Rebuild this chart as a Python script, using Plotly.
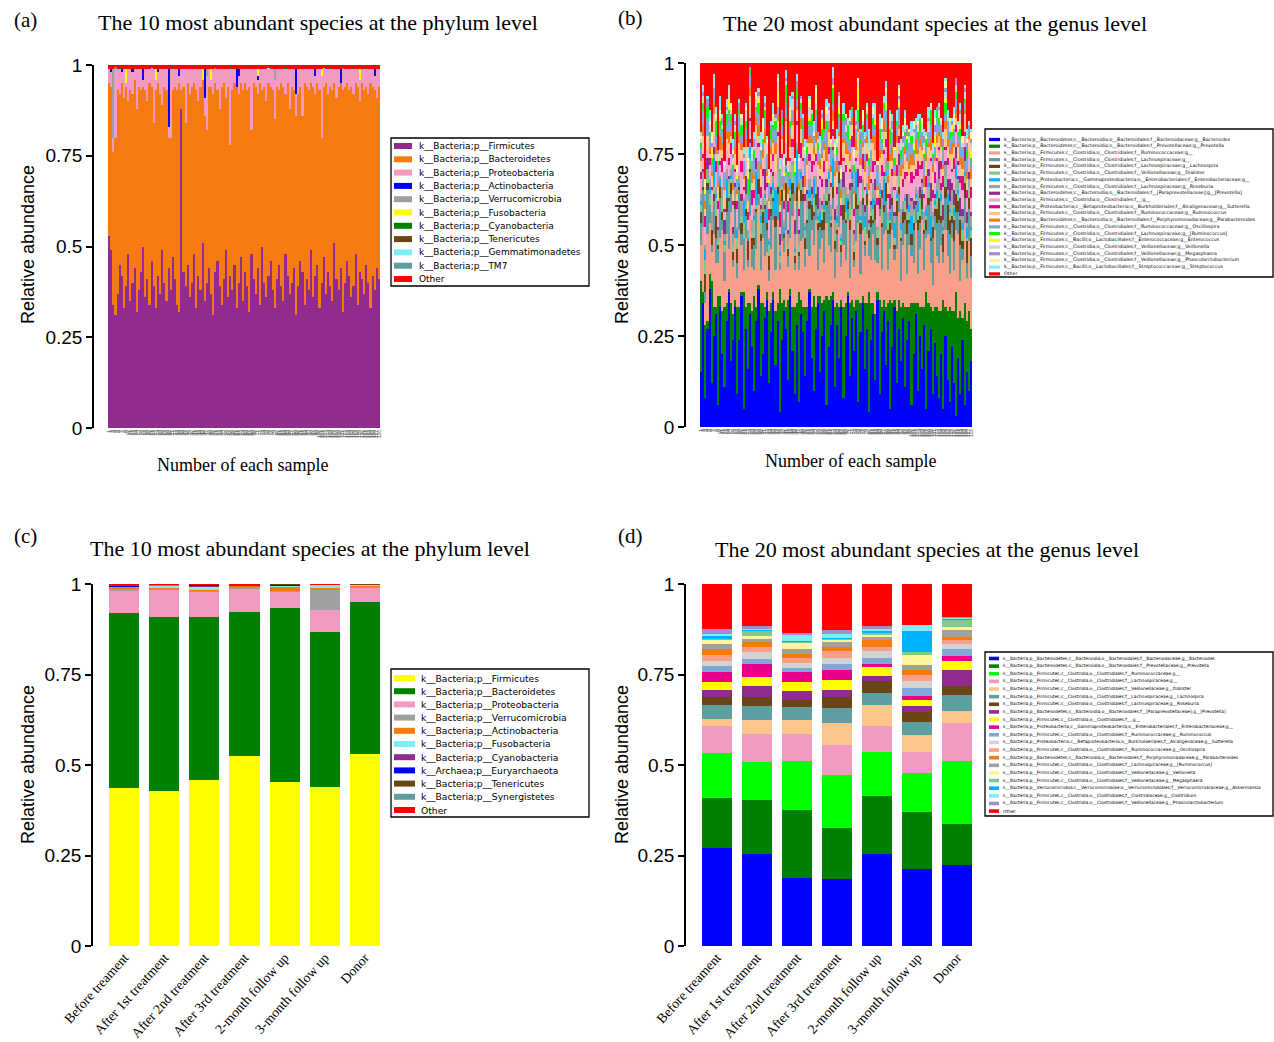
import plotly.graph_objects as go

W, H = 1274, 1042

# ---------------- Panel (a): phylum level, per sample (%) ----------------
SAMPLES = [str(i) for i in range(1, 129)]

A_FIRMICUTES = [
    53, 49, 34, 31, 37, 45, 42, 33, 39, 48, 35, 40, 44, 32, 38, 43,
    50, 36, 41, 34, 46, 39, 33, 42, 37, 49, 40, 35, 44, 38, 47, 41,
    34, 32, 88, 43, 39, 45, 36, 40, 48, 33, 42, 38, 51, 35, 40, 44,
    37, 31, 43, 46, 39, 34, 41, 49, 36, 42, 38, 45, 33, 40, 47, 35,
    43, 39, 32, 48, 41, 37, 44, 34, 50, 40, 36, 42, 46, 38, 33, 41,
    45, 39, 35, 48, 42, 37, 40, 44, 31, 39, 46, 43, 34, 41, 38, 49,
    36, 42, 45, 33, 40, 47, 37, 43, 39, 35, 51, 41, 38, 44, 32, 40,
    46, 42, 36, 39, 48, 34, 43, 41, 37, 45, 40, 33, 42, 38, 44, 41]
A_BACTEROIDETES = [
    42, 45, 42, 49, 56, 47, 53, 58, 55, 42, 58, 52, 52, 56, 56, 50,
    44, 57, 49, 61, 48, 45, 60, 53, 55, 40, 54, 58, 36, 42, 46, 53,
    59, 63, 5, 51, 45, 50, 56, 54, 47, 60, 48, 56, 45, 51, 42, 50,
    57, 61, 52, 47, 49, 60, 54, 42, 58, 36, 55, 50, 61, 52, 48, 58,
    52, 54, 62, 34, 54, 57, 48, 61, 43, 54, 54, 53, 48, 55, 52, 53,
    48, 56, 59, 44, 53, 51, 54, 49, 55, 53, 48, 43, 61, 53, 55, 46,
    58, 50, 50, 60, 40, 47, 58, 49, 55, 58, 44, 50, 56, 51, 61, 54,
    49, 51, 58, 53, 47, 60, 47, 54, 56, 49, 52, 62, 52, 55, 47, 53]
A_PROTEOBACTERIA = [
    4, 4, 4, 19, 6, 7, 3, 8, 1, 9, 6, 6, 3, 11, 5, 6,
    2, 6, 9, 4, 5, 15, 3, 3, 7, 10, 5, 6, 3, 19, 6, 5,
    6, 2, 6, 5, 15, 4, 7, 5, 4, 6, 9, 5, 0, 5, 15, 5,
    2, 7, 4, 6, 11, 5, 4, 8, 5, 21, 6, 4, 0, 5, 4, 6,
    4, 6, 5, 17, 4, 5, 4, 4, 6, 5, 9, 4, 5, 6, 11, 5,
    6, 4, 5, 7, 4, 11, 5, 6, 6, 7, 5, 13, 4, 5, 6, 4,
    5, 5, 4, 6, 17, 5, 4, 7, 5, 6, 4, 8, 5, 0, 6, 5,
    4, 6, 5, 7, 4, 5, 6, 4, 6, 5, 7, 4, 5, 4, 8, 5]
A_ACTINOBACTERIA = [
    0, 1, 0, 0, 0, 0, 1, 0, 0, 0, 0, 1, 0, 0, 0, 0,
    3, 0, 0, 0, 0, 0, 0, 1, 0, 0, 0, 0, 16, 0, 0, 0,
    0, 2, 0, 0, 0, 0, 0, 0, 0, 0, 0, 0, 0, 8, 0, 0,
    0, 0, 0, 0, 0, 0, 0, 0, 0, 0, 0, 0, 5, 2, 0, 0,
    0, 0, 0, 0, 0, 0, 1, 0, 0, 0, 0, 0, 0, 0, 0, 0,
    0, 0, 0, 0, 0, 0, 0, 0, 7, 0, 0, 0, 0, 0, 0, 0,
    0, 2, 0, 0, 0, 0, 0, 0, 0, 0, 0, 0, 0, 4, 0, 0,
    0, 0, 0, 0, 0, 0, 0, 0, 0, 0, 0, 0, 0, 2, 0, 0]
A_VERRUCOMICROBIA = [
    0, 0, 19, 0, 0, 0, 0, 0, 0, 0, 0, 0, 0, 0, 0, 0,
    0, 0, 0, 0, 0, 0, 0, 0, 0, 0, 0, 0, 0, 0, 0, 0,
    0, 0, 0, 0, 0, 0, 0, 0, 0, 0, 0, 0, 0, 0, 2, 0,
    0, 0, 0, 0, 0, 0, 0, 0, 0, 0, 0, 0, 0, 0, 0, 0,
    0, 0, 0, 0, 0, 0, 0, 0, 0, 0, 0, 0, 0, 0, 3, 0,
    0, 0, 0, 0, 0, 0, 0, 0, 0, 0, 0, 0, 0, 0, 0, 0,
    0, 0, 0, 0, 0, 0, 0, 0, 0, 0, 0, 0, 0, 0, 0, 0,
    0, 0, 0, 0, 0, 0, 0, 0, 0, 0, 0, 0, 0, 0, 0, 0]
A_FUSOBACTERIA = [
    0, 0, 0, 0, 0, 0, 0, 0, 4, 0, 0, 0, 0, 0, 0, 0,
    0, 0, 0, 0, 0, 0, 3, 0, 0, 0, 0, 0, 0, 0, 0, 0,
    0, 0, 0, 0, 0, 0, 0, 0, 0, 0, 0, 0, 3, 0, 0, 0,
    3, 0, 0, 0, 0, 0, 0, 0, 0, 0, 0, 0, 0, 0, 0, 0,
    0, 0, 0, 0, 0, 0, 2, 0, 0, 0, 0, 0, 0, 0, 0, 0,
    0, 0, 0, 0, 0, 0, 0, 0, 0, 0, 0, 0, 0, 0, 0, 0,
    0, 0, 0, 0, 2, 0, 0, 0, 0, 0, 0, 0, 0, 0, 0, 0,
    0, 0, 0, 0, 0, 0, 3, 0, 0, 0, 0, 0, 0, 0, 0, 0]
A_CYANOBACTERIA = [
    0, 0, 0, 0, 0, 0.5, 0, 0, 0, 0, 0, 0, 0, 0, 0, 0,
    0, 0, 0, 0, 0, 0, 0, 0, 0, 0, 0, 0, 0, 0, 0.4, 0,
    0, 0, 0, 0, 0, 0, 0, 0, 0, 0, 0, 0, 0, 0, 0, 0,
    0, 0, 0, 0, 0, 0, 0, 0, 0, 0.5, 0, 0, 0, 0, 0, 0,
    0, 0, 0, 0, 0, 0, 0, 0, 0, 0, 0, 0, 0, 0, 0, 0,
    0, 0, 0, 0.4, 0, 0, 0, 0, 0, 0, 0, 0, 0, 0, 0, 0,
    0, 0, 0, 0, 0, 0, 0, 0, 0.5, 0, 0, 0, 0, 0, 0, 0,
    0, 0, 0, 0, 0, 0, 0, 0, 0.4, 0, 0, 0, 0, 0, 0, 0]
A_TENERICUTES = [
    0, 0, 0, 0, 0, 0, 0, 0, 0, 0, 0, 0, 0.4, 0, 0, 0,
    0, 0, 0, 0, 0, 0, 0, 0, 0, 0, 0, 0, 0, 0, 0, 0,
    0, 0, 0, 0, 0, 0, 0, 0, 0.5, 0, 0, 0, 0, 0, 0, 0,
    0, 0, 0, 0, 0, 0, 0, 0, 0, 0, 0, 0, 0, 0, 0, 0,
    0, 0, 0.4, 0, 0, 0, 0, 0, 0, 0, 0, 0, 0, 0, 0, 0,
    0, 0, 0, 0, 0, 0, 0, 0, 0, 0, 0, 0, 0.5, 0, 0, 0,
    0, 0, 0, 0, 0, 0, 0, 0, 0, 0, 0, 0, 0, 0, 0, 0,
    0, 0, 0, 0.4, 0, 0, 0, 0, 0, 0, 0, 0, 0, 0, 0, 0]
A_GEMMATIMONADETES = [
    0, 0, 0, 0, 0, 0, 0, 0, 0, 0, 0, 0, 0, 0, 0, 0,
    0, 0, 0, 0, 0.3, 0, 0, 0, 0, 0, 0, 0, 0, 0, 0, 0,
    0, 0, 0, 0, 0, 0, 0, 0, 0, 0, 0, 0, 0, 0, 0, 0,
    0, 0, 0, 0, 0, 0, 0, 0, 0, 0, 0, 0, 0, 0, 0, 0,
    0, 0, 0, 0, 0, 0, 0, 0, 0, 0, 0, 0.3, 0, 0, 0, 0,
    0, 0, 0, 0, 0, 0, 0, 0, 0, 0, 0, 0, 0, 0, 0, 0,
    0, 0, 0, 0, 0, 0.3, 0, 0, 0, 0, 0, 0, 0, 0, 0, 0,
    0, 0, 0, 0, 0, 0, 0, 0, 0, 0, 0, 0, 0, 0, 0, 0]
A_TM7 = [
    0, 0, 0, 0.5, 0, 0, 0, 0, 0, 0, 0, 0, 0, 0, 0, 0,
    0, 0, 0, 0, 0, 0, 0, 0, 0, 0, 0, 0, 0, 0, 0, 0,
    0, 0, 0, 0, 0, 0, 0, 0, 0, 0, 0, 0, 0, 0, 0, 0,
    0, 0, 0.3, 0, 0, 0, 0, 0, 0, 0, 0, 0, 0, 0, 0, 0,
    0, 0, 0, 0, 0, 0, 0, 0, 0, 0, 0, 0, 0, 0, 0, 0,
    0, 0, 0, 0, 0, 0, 0, 0, 0, 0, 0, 0, 0, 0, 0, 0,
    0, 0, 0, 0, 0, 0, 0, 0, 0, 0, 0, 0, 0, 0, 0.3, 0,
    0, 0, 0, 0, 0, 0, 0, 0, 0, 0, 0, 0, 0, 0, 0, 0]

A_LABELS = ["k__Bacteria;p__Firmicutes", "k__Bacteria;p__Bacteroidetes",
            "k__Bacteria;p__Proteobacteria", "k__Bacteria;p__Actinobacteria",
            "k__Bacteria;p__Verrucomicrobia", "k__Bacteria;p__Fusobacteria",
            "k__Bacteria;p__Cyanobacteria", "k__Bacteria;p__Tenericutes",
            "k__Bacteria;p__Gemmatimonadetes", "k__Bacteria;p__TM7", "Other"]
A_COLORS = ["#912B8E", "#F57A10", "#F39AC2", "#0000FF", "#A0A0A0", "#FFFF00",
            "#008000", "#6B4513", "#7EEDF5", "#5F9EA0", "#FF0000"]

# ---------------- Panel (b): genus level, per sample (%) ----------------
B_BACTEROIDES = [
    15, 34, 8, 27, 38, 12, 25, 31, 6, 33, 20, 11, 29, 37, 18, 24,
    33, 9, 24, 36, 5, 27, 16, 31, 22, 10, 29, 38, 14, 20, 30, 35,
    12, 26, 35, 17, 29, 4, 24, 32, 27, 13, 36, 21, 9, 28, 7, 31,
    26, 14, 29, 37, 19, 10, 27, 34, 15, 25, 32, 6, 22, 28, 35, 11,
    28, 19, 33, 8, 25, 36, 14, 30, 21, 32, 7, 26, 34, 16, 27, 4,
    24, 31, 13, 35, 9, 26, 32, 17, 29, 5, 22, 33, 12, 27, 18, 30,
    11, 24, 29, 6, 20, 31, 10, 25, 16, 28, 5, 21, 27, 9, 23, 14,
    8, 20, 5, 25, 13, 7, 22, 12, 3, 19, 9, 24, 6, 15, 10, 18]
B_PREVOTELLA = [
    25, 3, 20, 2, 4, 28, 8, 2, 30, 3, 12, 22, 5, 1, 16, 7,
    2, 24, 9, 1, 32, 6, 18, 3, 10, 26, 4, 1, 20, 14, 3, 2,
    20, 8, 2, 15, 5, 34, 10, 3, 6, 22, 2, 12, 24, 6, 30, 4,
    7, 19, 4, 1, 14, 26, 6, 2, 21, 9, 3, 30, 13, 8, 2, 22,
    6, 14, 2, 25, 9, 1, 20, 5, 12, 3, 28, 8, 2, 18, 7, 33,
    10, 3, 18, 2, 26, 7, 3, 16, 5, 30, 12, 2, 20, 8, 15, 4,
    22, 9, 4, 28, 14, 3, 24, 8, 17, 5, 32, 13, 6, 23, 10, 19,
    24, 12, 30, 8, 19, 26, 10, 20, 34, 11, 23, 6, 28, 14, 22, 9]
B_RUMINOCOCCACEAE = [
    10, 18, 6, 24, 14, 8, 20, 12, 9, 16, 22, 7, 19, 11, 25, 13,
    17, 8, 21, 13, 6, 19, 10, 24, 12, 7, 16, 22, 9, 18, 14, 11,
    8, 15, 20, 11, 23, 5, 17, 13, 21, 9, 14, 25, 10, 19, 6, 16,
    19, 11, 16, 9, 21, 14, 24, 7, 13, 18, 10, 20, 15, 12, 23, 8,
    14, 22, 9, 17, 12, 20, 7, 25, 11, 16, 21, 8, 18, 13, 19, 10,
    12, 19, 15, 8, 23, 10, 18, 21, 9, 14, 20, 11, 17, 24, 7, 16,
    20, 9, 17, 13, 11, 22, 8, 16, 24, 10, 15, 19, 12, 7, 21, 14,
    13, 18, 10, 21, 15, 9, 20, 11, 17, 23, 8, 16, 22, 12, 19, 14]
B_LACHNOSPIRACEAE = [
    6, 10, 3, 12, 5, 2, 9, 7, 4, 11, 3, 8, 6, 13, 5, 2,
    8, 4, 11, 3, 9, 6, 2, 12, 5, 7, 10, 3, 8, 4, 13, 6,
    3, 9, 5, 12, 7, 2, 11, 4, 8, 3, 10, 6, 2, 9, 4, 11,
    10, 5, 7, 13, 3, 8, 4, 11, 6, 2, 9, 5, 12, 7, 3, 8,
    5, 12, 4, 7, 10, 3, 13, 6, 2, 9, 4, 11, 7, 3, 8, 5,
    9, 3, 11, 5, 2, 12, 6, 8, 10, 4, 7, 3, 9, 5, 11, 6,
    4, 11, 6, 3, 9, 5, 12, 7, 3, 10, 2, 8, 6, 13, 4, 9,
    12, 6, 3, 9, 7, 11, 4, 8, 5, 6, 10, 3, 7, 4, 9, 6]
B_LACHNOSPIRA = [
    3, 1, 5, 2, 0, 4, 2, 6, 1, 3, 2, 0, 4, 1, 3, 2,
    2, 4, 1, 3, 0, 2, 5, 1, 3, 2, 1, 4, 2, 3, 1, 2,
    4, 2, 1, 3, 2, 0, 3, 1, 5, 2, 1, 3, 2, 4, 1, 3,
    2, 3, 1, 2, 4, 1, 3, 2, 1, 3, 5, 1, 2, 1, 3, 2,
    1, 3, 2, 4, 1, 2, 3, 1, 2, 4, 1, 3, 2, 1, 3, 2,
    3, 1, 4, 2, 3, 1, 2, 5, 1, 3, 2, 1, 4, 2, 1, 3,
    2, 4, 1, 3, 2, 1, 3, 2, 4, 1, 3, 2, 1, 3, 2, 4,
    6, 2, 5, 3, 7, 4, 2, 6, 5, 3, 7, 2, 4, 6, 3, 5]
B_DIALISTER = [
    2, 0, 4, 1, 3, 0, 2, 5, 1, 0, 3, 2, 0, 4, 1, 2,
    1, 3, 0, 2, 4, 1, 0, 3, 2, 5, 1, 0, 3, 1, 2, 0,
    3, 1, 2, 0, 4, 2, 1, 0, 3, 1, 2, 5, 1, 0, 2, 3,
    0, 2, 3, 1, 0, 4, 2, 1, 0, 3, 1, 2, 4, 1, 0, 2,
    2, 0, 1, 3, 2, 0, 4, 1, 2, 0, 3, 1, 2, 4, 0, 1,
    1, 3, 0, 2, 1, 4, 0, 2, 3, 1, 0, 2, 1, 3, 2, 0,
    3, 1, 2, 0, 3, 1, 2, 4, 0, 2, 1, 3, 0, 2, 1, 3,
    2, 4, 1, 3, 0, 2, 3, 1, 4, 2, 0, 3, 2, 1, 3, 2]
B_ENTEROBACTERIACEAE = [
    1, 0, 3, 0, 2, 0, 8, 1, 0, 2, 0, 1, 5, 0, 1, 0,
    0, 2, 1, 0, 6, 0, 1, 3, 0, 1, 9, 0, 2, 0, 1, 4,
    1, 0, 2, 7, 0, 1, 0, 2, 1, 0, 3, 0, 1, 10, 0, 2,
    0, 1, 0, 2, 1, 5, 0, 1, 3, 0, 1, 0, 2, 1, 8, 0,
    2, 0, 1, 0, 4, 1, 0, 2, 0, 6, 0, 1, 0, 3, 1, 0,
    0, 3, 1, 0, 1, 0, 7, 1, 0, 2, 0, 4, 1, 0, 2, 1,
    1, 0, 2, 5, 0, 1, 3, 0, 1, 0, 2, 1, 6, 0, 1, 2,
    0, 2, 1, 0, 3, 1, 0, 2, 4, 1, 0, 2, 1, 3, 0, 1]
B_ROSEBURIA = [
    2, 4, 1, 3, 2, 5, 1, 2, 3, 1, 4, 2, 3, 1, 2, 3,
    3, 1, 2, 4, 1, 3, 2, 1, 3, 2, 1, 5, 2, 3, 1, 2,
    1, 3, 2, 1, 4, 2, 3, 2, 1, 3, 2, 1, 4, 2, 3, 1,
    2, 1, 4, 3, 2, 1, 3, 2, 4, 1, 3, 2, 1, 3, 2, 4,
    3, 2, 1, 2, 3, 1, 4, 2, 3, 1, 2, 4, 3, 1, 2, 1,
    2, 4, 3, 1, 2, 3, 1, 4, 2, 1, 3, 2, 1, 3, 4, 2,
    1, 2, 3, 4, 1, 2, 3, 1, 2, 3, 1, 2, 4, 2, 1, 3,
    3, 1, 2, 3, 1, 2, 4, 1, 2, 3, 1, 2, 3, 1, 2, 3]
B_PARAPREVOTELLA = [
    0, 1, 0, 3, 0, 0, 2, 0, 1, 0, 0, 4, 0, 1, 0, 2,
    1, 0, 0, 2, 0, 5, 0, 1, 0, 0, 3, 0, 1, 0, 6, 0,
    0, 2, 1, 0, 0, 3, 0, 0, 2, 1, 0, 0, 4, 0, 1, 0,
    3, 0, 1, 0, 2, 0, 0, 6, 0, 1, 0, 2, 0, 0, 1, 3,
    0, 1, 0, 4, 0, 0, 2, 0, 1, 0, 5, 0, 0, 2, 0, 1,
    1, 0, 3, 0, 0, 2, 1, 0, 0, 4, 0, 1, 0, 3, 0, 0,
    0, 4, 0, 1, 2, 0, 0, 3, 1, 0, 0, 2, 5, 0, 1, 0,
    5, 2, 4, 1, 3, 6, 2, 4, 3, 1, 5, 2, 4, 3, 2, 1]
B_CLOSTRIDIALES = [
    4, 3, 5, 2, 4, 6, 3, 4, 5, 3, 4, 2, 5, 3, 4, 6,
    3, 5, 4, 6, 2, 4, 3, 5, 4, 3, 5, 4, 2, 6, 3, 4,
    5, 4, 3, 4, 6, 2, 5, 3, 4, 5, 3, 4, 3, 5, 4, 3,
    4, 6, 3, 5, 4, 3, 4, 2, 5, 4, 6, 3, 4, 5, 3, 4,
    3, 4, 5, 3, 4, 6, 3, 5, 4, 2, 4, 5, 3, 4, 6, 3,
    5, 3, 4, 6, 3, 4, 5, 3, 4, 5, 3, 6, 4, 3, 5, 4,
    4, 5, 3, 4, 6, 3, 4, 5, 3, 4, 5, 3, 6, 4, 3, 5,
    3, 4, 5, 3, 4, 5, 3, 6, 4, 3, 4, 5, 3, 4, 5, 4]
B_SUTTERELLA = [
    2, 1, 3, 0, 2, 1, 0, 3, 2, 1, 4, 1, 0, 2, 3, 1,
    1, 2, 0, 3, 1, 0, 2, 1, 4, 2, 0, 1, 3, 2, 0, 1,
    3, 1, 2, 0, 1, 4, 1, 2, 0, 3, 1, 2, 0, 1, 2, 4,
    1, 2, 0, 2, 3, 1, 2, 0, 1, 2, 3, 0, 2, 1, 2, 0,
    2, 0, 3, 1, 2, 0, 1, 3, 2, 1, 0, 2, 4, 1, 2, 0,
    1, 3, 1, 2, 0, 3, 1, 2, 1, 0, 2, 1, 3, 2, 0, 2,
    2, 1, 0, 3, 1, 2, 4, 1, 2, 1, 3, 0, 1, 2, 3, 1,
    1, 2, 3, 1, 2, 0, 1, 3, 2, 1, 2, 4, 1, 2, 0, 3]
B_RUMINOCOCCUS = [
    3, 5, 2, 4, 1, 3, 6, 2, 4, 3, 2, 5, 3, 4, 2, 3,
    4, 2, 5, 3, 2, 4, 3, 6, 2, 3, 4, 2, 5, 3, 4, 2,
    2, 4, 3, 5, 3, 2, 4, 3, 6, 2, 3, 4, 2, 3, 5, 4,
    3, 2, 4, 3, 5, 2, 3, 4, 2, 6, 3, 2, 4, 3, 2, 5,
    4, 3, 2, 4, 3, 5, 2, 3, 4, 2, 6, 3, 2, 4, 3, 5,
    2, 5, 3, 2, 4, 3, 5, 2, 3, 4, 2, 3, 6, 2, 4, 3,
    5, 3, 4, 2, 3, 4, 2, 5, 3, 2, 4, 3, 2, 5, 3, 4,
    3, 4, 2, 5, 3, 2, 4, 3, 2, 4, 3, 2, 5, 3, 4, 2]
B_PARABACTEROIDES = [
    1, 3, 2, 0, 2, 1, 3, 2, 1, 4, 2, 1, 2, 3, 1, 2,
    2, 1, 3, 2, 1, 2, 0, 2, 3, 1, 2, 3, 1, 2, 4, 1,
    1, 2, 1, 3, 2, 4, 1, 2, 1, 2, 3, 1, 2, 1, 2, 3,
    2, 3, 1, 2, 1, 2, 3, 1, 2, 1, 2, 4, 1, 2, 3, 1,
    3, 1, 2, 1, 3, 1, 2, 2, 1, 3, 1, 2, 1, 3, 2, 4,
    1, 2, 4, 1, 2, 1, 3, 1, 2, 2, 4, 1, 2, 1, 3, 1,
    2, 1, 2, 3, 1, 4, 1, 2, 1, 3, 2, 1, 3, 2, 1, 2,
    1, 3, 1, 2, 2, 1, 3, 1, 2, 1, 2, 3, 1, 2, 1, 3]
B_OSCILLOSPIRA = [
    3, 4, 2, 5, 3, 2, 4, 3, 5, 2, 3, 4, 2, 5, 3, 4,
    2, 3, 5, 2, 4, 3, 2, 4, 3, 5, 2, 3, 4, 2, 3, 5,
    4, 2, 3, 4, 2, 5, 3, 2, 4, 3, 2, 3, 5, 2, 4, 2,
    3, 5, 2, 3, 4, 2, 5, 3, 2, 4, 3, 5, 2, 4, 2, 3,
    2, 4, 3, 5, 2, 3, 4, 2, 5, 3, 2, 4, 3, 2, 5, 3,
    5, 3, 2, 4, 3, 2, 3, 5, 2, 3, 4, 2, 3, 5, 2, 4,
    3, 2, 5, 3, 2, 4, 3, 2, 4, 5, 2, 3, 4, 2, 3, 5,
    2, 3, 4, 2, 5, 3, 2, 4, 3, 2, 5, 3, 2, 4, 3, 2]
B_RUMINOCOCCUS_L = [
    1, 2, 0, 3, 1, 2, 0, 4, 1, 2, 1, 0, 3, 1, 2, 1,
    2, 0, 1, 3, 0, 2, 4, 1, 0, 2, 1, 3, 0, 1, 2, 0,
    0, 3, 1, 2, 0, 1, 2, 0, 5, 1, 2, 0, 1, 3, 0, 2,
    1, 0, 2, 1, 3, 0, 1, 2, 0, 3, 1, 2, 0, 1, 4, 0,
    2, 1, 0, 2, 1, 4, 0, 1, 2, 0, 3, 1, 2, 0, 1, 2,
    0, 2, 1, 0, 3, 1, 2, 0, 1, 4, 0, 2, 1, 0, 2, 1,
    1, 3, 0, 2, 1, 0, 2, 3, 0, 1, 2, 0, 4, 1, 0, 2,
    2, 0, 1, 3, 0, 2, 1, 0, 2, 1, 3, 0, 1, 2, 0, 1]
B_ENTEROCOCCUS = [
    0, 0, 1, 0, 0, 2, 0, 0, 0, 1, 0, 0, 0, 3, 0, 0,
    0, 1, 0, 0, 0, 0, 2, 0, 0, 0, 0, 1, 0, 0, 0, 0,
    1, 0, 0, 0, 4, 0, 0, 1, 0, 0, 0, 0, 2, 0, 0, 0,
    0, 0, 0, 1, 0, 0, 0, 0, 0, 2, 0, 0, 0, 0, 1, 0,
    0, 2, 0, 0, 0, 0, 1, 0, 0, 0, 6, 0, 0, 0, 0, 1,
    0, 0, 1, 0, 0, 0, 0, 2, 0, 0, 0, 0, 0, 1, 0, 0,
    0, 1, 0, 0, 2, 0, 0, 0, 0, 1, 0, 0, 0, 0, 3, 0,
    0, 0, 0, 1, 0, 0, 2, 0, 0, 0, 1, 0, 0, 0, 0, 2]
B_VEILLONELLA = [
    1, 2, 1, 0, 2, 1, 3, 1, 2, 0, 1, 2, 1, 3, 1, 2,
    2, 1, 0, 2, 1, 3, 1, 0, 2, 1, 2, 1, 0, 2, 1, 3,
    1, 0, 2, 1, 3, 1, 0, 2, 1, 2, 1, 3, 1, 0, 2, 1,
    0, 2, 1, 3, 1, 0, 2, 1, 2, 1, 0, 2, 3, 1, 0, 2,
    1, 3, 0, 1, 2, 1, 3, 0, 2, 1, 2, 0, 1, 3, 1, 2,
    2, 1, 3, 0, 1, 2, 1, 3, 0, 2, 1, 2, 0, 1, 3, 1,
    1, 0, 2, 1, 3, 1, 2, 0, 1, 2, 0, 3, 1, 2, 1, 0,
    2, 1, 0, 2, 1, 3, 0, 1, 2, 1, 3, 1, 2, 0, 1, 2]
B_MEGASPHAERA = [
    0, 1, 0, 2, 0, 1, 0, 0, 1, 0, 2, 0, 1, 0, 0, 1,
    1, 0, 2, 0, 1, 0, 0, 1, 0, 2, 0, 1, 0, 0, 1, 0,
    0, 1, 0, 1, 0, 0, 2, 0, 1, 0, 0, 1, 0, 2, 0, 1,
    2, 0, 1, 0, 0, 1, 0, 2, 0, 1, 0, 0, 1, 0, 2, 0,
    0, 1, 0, 0, 2, 0, 1, 0, 0, 1, 0, 2, 0, 1, 0, 0,
    1, 0, 0, 2, 0, 1, 0, 0, 1, 0, 2, 0, 0, 1, 0, 2,
    0, 2, 1, 0, 1, 0, 0, 1, 0, 2, 0, 1, 0, 0, 2, 1,
    1, 0, 2, 1, 0, 0, 1, 0, 2, 0, 1, 0, 1, 2, 0, 1]
B_PHASCOLARCTO = [
    1, 0, 2, 0, 1, 3, 0, 1, 0, 2, 0, 1, 0, 0, 2, 1,
    0, 2, 0, 1, 0, 1, 3, 0, 1, 0, 2, 0, 1, 4, 0, 1,
    2, 0, 1, 0, 1, 0, 0, 2, 0, 1, 3, 0, 1, 0, 1, 0,
    0, 1, 0, 2, 0, 1, 4, 0, 1, 0, 0, 2, 0, 1, 0, 3,
    1, 0, 3, 0, 1, 0, 1, 0, 2, 0, 1, 0, 3, 0, 1, 0,
    0, 2, 0, 1, 0, 3, 0, 1, 0, 2, 0, 1, 0, 2, 0, 1,
    3, 0, 1, 0, 2, 0, 1, 0, 3, 0, 1, 0, 1, 0, 2, 0,
    0, 1, 0, 2, 0, 1, 0, 3, 0, 1, 0, 2, 0, 1, 0, 2]
B_STREPTOCOCCUS = [
    1, 2, 0, 1, 3, 0, 1, 2, 0, 4, 1, 0, 2, 1, 0, 3,
    2, 0, 1, 0, 2, 1, 3, 0, 1, 2, 0, 1, 4, 0, 2, 1,
    0, 1, 3, 0, 1, 2, 0, 1, 2, 0, 3, 1, 0, 2, 1, 0,
    1, 2, 0, 1, 0, 3, 1, 0, 2, 1, 0, 2, 1, 0, 3, 1,
    3, 0, 1, 2, 0, 1, 2, 0, 1, 3, 0, 1, 0, 2, 1, 5,
    0, 1, 2, 0, 3, 0, 1, 2, 0, 1, 2, 0, 3, 1, 0, 2,
    2, 1, 0, 3, 0, 1, 2, 1, 0, 2, 1, 3, 0, 1, 2, 0,
    1, 0, 2, 1, 2, 0, 1, 2, 0, 1, 2, 0, 1, 3, 0, 1]

B_LABELS = [
    "k__Bacteria;p__Bacteroidetes;c__Bacteroidia;o__Bacteroidales;f__Bacteroidaceae;g__Bacteroides",
    "k__Bacteria;p__Bacteroidetes;c__Bacteroidia;o__Bacteroidales;f__Prevotellaceae;g__Prevotella",
    "k__Bacteria;p__Firmicutes;c__Clostridia;o__Clostridiales;f__Ruminococcaceae;g__",
    "k__Bacteria;p__Firmicutes;c__Clostridia;o__Clostridiales;f__Lachnospiraceae;g__",
    "k__Bacteria;p__Firmicutes;c__Clostridia;o__Clostridiales;f__Lachnospiraceae;g__Lachnospira",
    "k__Bacteria;p__Firmicutes;c__Clostridia;o__Clostridiales;f__Veillonellaceae;g__Dialister",
    "k__Bacteria;p__Proteobacteria;c__Gammaproteobacteria;o__Enterobacteriales;f__Enterobacteriaceae;g__",
    "k__Bacteria;p__Firmicutes;c__Clostridia;o__Clostridiales;f__Lachnospiraceae;g__Roseburia",
    "k__Bacteria;p__Bacteroidetes;c__Bacteroidia;o__Bacteroidales;f__[Paraprevotellaceae];g__[Prevotella]",
    "k__Bacteria;p__Firmicutes;c__Clostridia;o__Clostridiales;f__;g__",
    "k__Bacteria;p__Proteobacteria;c__Betaproteobacteria;o__Burkholderiales;f__Alcaligenaceae;g__Sutterella",
    "k__Bacteria;p__Firmicutes;c__Clostridia;o__Clostridiales;f__Ruminococcaceae;g__Ruminococcus",
    "k__Bacteria;p__Bacteroidetes;c__Bacteroidia;o__Bacteroidales;f__Porphyromonadaceae;g__Parabacteroides",
    "k__Bacteria;p__Firmicutes;c__Clostridia;o__Clostridiales;f__Ruminococcaceae;g__Oscillospira",
    "k__Bacteria;p__Firmicutes;c__Clostridia;o__Clostridiales;f__Lachnospiraceae;g__[Ruminococcus]",
    "k__Bacteria;p__Firmicutes;c__Bacilli;o__Lactobacillales;f__Enterococcaceae;g__Enterococcus",
    "k__Bacteria;p__Firmicutes;c__Clostridia;o__Clostridiales;f__Veillonellaceae;g__Veillonella",
    "k__Bacteria;p__Firmicutes;c__Clostridia;o__Clostridiales;f__Veillonellaceae;g__Megasphaera",
    "k__Bacteria;p__Firmicutes;c__Clostridia;o__Clostridiales;f__Veillonellaceae;g__Phascolarctobacterium",
    "k__Bacteria;p__Firmicutes;c__Bacilli;o__Lactobacillales;f__Streptococcaceae;g__Streptococcus",
    "Other"]
B_COLORS = ["#0000FF", "#008000", "#F8A08A", "#5F9EA0", "#6B4513", "#80C98F",
            "#00B2FF", "#A0A0A0", "#912B8E", "#F5A8CB", "#E8008B", "#FDC68A",
            "#F57A10", "#7FA8DA", "#00FF00", "#FFFF00", "#D3D3D3", "#A28DC9",
            "#FFF59A", "#7EEDF5", "#FF0000"]

# ---------------- Panel (c): phylum level, per time point (%) ----------------
CATEGORIES = ["Before treament", "After 1st treatment", "After 2nd treatment",
              "After 3rd treatment", "2-month follow up", "3-month follow up", "Donor"]
C_FIRMICUTES = [43.7, 42.7, 45.9, 52.5, 45.3, 44.0, 53.1]
C_BACTEROIDETES = [48.2, 48.3, 45.0, 39.7, 48.0, 42.8, 42.0]
C_PROTEOBACTERIA = [6.2, 7.5, 7.0, 6.6, 4.5, 6.0, 3.9]
C_VERRUCOMICROBIA = [0.5, 0.2, 0.2, 0.2, 0.2, 5.8, 0.1]
C_ACTINOBACTERIA = [0.6, 0.4, 0.3, 0.5, 1.2, 0.2, 0.6]
C_FUSOBACTERIA = [0.1, 0.4, 1.0, 0.1, 0.3, 1.0, 0.1]
C_CYANOBACTERIA = [0.1, 0.1, 0.3, 0.1, 0.2, 0.0, 0.1]
C_EURYARCHAEOTA = [0.1, 0.0, 0.1, 0.0, 0.2, 0.0, 0.0]
C_TENERICUTES = [0.1, 0.1, 0.1, 0.1, 0.1, 0.1, 0.1]
C_SYNERGISTETES = [0.1, 0.1, 0.0, 0.1, 0.0, 0.0, 0.0]
C_LABELS = ["k__Bacteria;p__Firmicutes", "k__Bacteria;p__Bacteroidetes",
            "k__Bacteria;p__Proteobacteria", "k__Bacteria;p__Verrucomicrobia",
            "k__Bacteria;p__Actinobacteria", "k__Bacteria;p__Fusobacteria",
            "k__Bacteria;p__Cyanobacteria", "k__Archaea;p__Euryarchaeota",
            "k__Bacteria;p__Tenericutes", "k__Bacteria;p__Synergistetes", "Other"]
C_COLORS = ["#FFFF00", "#008000", "#F39AC2", "#A0A0A0", "#F57A10", "#7EEDF5",
            "#912B8E", "#0000FF", "#6B4513", "#5F9EA0", "#FF0000"]

# ---------------- Panel (d): genus level, per time point (%) ----------------
D_BACTEROIDES = [27.1, 25.3, 18.9, 18.4, 25.3, 21.4, 22.4]
D_PREVOTELLA = [13.8, 15.1, 18.8, 14.1, 16.1, 15.5, 11.4]
D_RUMINOCOCCACEAE = [12.3, 10.3, 13.5, 14.7, 12.3, 11.0, 17.4]
D_LACHNOSPIRACEAE = [7.5, 7.8, 7.5, 8.4, 7.1, 5.8, 10.4]
D_DIALISTER = [2.0, 3.9, 3.7, 6.0, 5.8, 4.7, 3.4]
D_LACHNOSPIRA = [3.9, 3.9, 3.7, 4.1, 3.3, 3.4, 4.3]
D_ROSEBURIA = [2.3, 2.5, 1.8, 3.0, 3.2, 2.9, 2.4]
D_PARAPREVOTELLA = [1.9, 3.1, 2.5, 1.9, 1.6, 1.7, 4.5]
D_CLOSTRIDIALES = [2.1, 2.3, 2.5, 3.0, 2.4, 1.5, 2.4]
D_ENTEROBACTERIACEAE = [2.8, 3.6, 2.7, 2.7, 0.7, 1.2, 1.5]
D_RUMINOCOCCUS = [1.6, 1.6, 1.3, 1.5, 1.8, 2.2, 2.0]
D_SUTTERELLA = [1.4, 1.8, 1.3, 1.7, 1.8, 1.9, 1.2]
D_OSCILLOSPIRA = [1.6, 1.3, 1.4, 2.0, 1.3, 1.7, 1.1]
D_PARABACTEROIDES = [1.7, 1.4, 1.1, 1.2, 1.7, 1.4, 1.0]
D_RUMINOCOCCUS_L = [1.3, 1.1, 1.3, 1.2, 1.1, 1.3, 2.1]
D_VEILLONELLA = [1.1, 0.5, 1.9, 0.7, 0.5, 2.7, 0.5]
D_MEGASPHAERA = [0.6, 1.6, 0.3, 0.4, 0.7, 0.9, 2.2]
D_AKKERMANSIA = [0.5, 0.2, 0.1, 0.2, 0.5, 5.7, 0.4]
D_CLOSTRIDIUM = [0.6, 0.3, 1.5, 0.9, 0.3, 1.7, 0.2]
D_PHASCOLARCTO = [1.4, 0.8, 0.8, 1.1, 0.8, 0.0, 0.2]
D_LABELS = [
    "k__Bacteria;p__Bacteroidetes;c__Bacteroidia;o__Bacteroidales;f__Bacteroidaceae;g__Bacteroides",
    "k__Bacteria;p__Bacteroidetes;c__Bacteroidia;o__Bacteroidales;f__Prevotellaceae;g__Prevotella",
    "k__Bacteria;p__Firmicutes;c__Clostridia;o__Clostridiales;f__Ruminococcaceae;g__",
    "k__Bacteria;p__Firmicutes;c__Clostridia;o__Clostridiales;f__Lachnospiraceae;g__",
    "k__Bacteria;p__Firmicutes;c__Clostridia;o__Clostridiales;f__Veillonellaceae;g__Dialister",
    "k__Bacteria;p__Firmicutes;c__Clostridia;o__Clostridiales;f__Lachnospiraceae;g__Lachnospira",
    "k__Bacteria;p__Firmicutes;c__Clostridia;o__Clostridiales;f__Lachnospiraceae;g__Roseburia",
    "k__Bacteria;p__Bacteroidetes;c__Bacteroidia;o__Bacteroidales;f__[Paraprevotellaceae];g__[Prevotella]",
    "k__Bacteria;p__Firmicutes;c__Clostridia;o__Clostridiales;f__;g__",
    "k__Bacteria;p__Proteobacteria;c__Gammaproteobacteria;o__Enterobacteriales;f__Enterobacteriaceae;g__",
    "k__Bacteria;p__Firmicutes;c__Clostridia;o__Clostridiales;f__Ruminococcaceae;g__Ruminococcus",
    "k__Bacteria;p__Proteobacteria;c__Betaproteobacteria;o__Burkholderiales;f__Alcaligenaceae;g__Sutterella",
    "k__Bacteria;p__Firmicutes;c__Clostridia;o__Clostridiales;f__Ruminococcaceae;g__Oscillospira",
    "k__Bacteria;p__Bacteroidetes;c__Bacteroidia;o__Bacteroidales;f__Porphyromonadaceae;g__Parabacteroides",
    "k__Bacteria;p__Firmicutes;c__Clostridia;o__Clostridiales;f__Lachnospiraceae;g__[Ruminococcus]",
    "k__Bacteria;p__Firmicutes;c__Clostridia;o__Clostridiales;f__Veillonellaceae;g__Veillonella",
    "k__Bacteria;p__Firmicutes;c__Clostridia;o__Clostridiales;f__Veillonellaceae;g__Megasphaera",
    "k__Bacteria;p__Verrucomicrobia;c__Verrucomicrobiae;o__Verrucomicrobiales;f__Verrucomicrobiaceae;g__Akkermansia",
    "k__Bacteria;p__Firmicutes;c__Clostridia;o__Clostridiales;f__Clostridiaceae;g__Clostridium",
    "k__Bacteria;p__Firmicutes;c__Clostridia;o__Clostridiales;f__Veillonellaceae;g__Phascolarctobacterium",
    "Other"]
D_COLORS = ["#0000FF", "#008000", "#00FF00", "#F39AC2", "#FDC68A", "#5F9EA0",
            "#6B4513", "#912B8E", "#FFFF00", "#E8008B", "#7FA8DA", "#D3D3D3",
            "#F8A08A", "#F57A10", "#A0A0A0", "#FFF59A", "#80C98F", "#00B2FF",
            "#7EEDF5", "#A28DC9", "#FF0000"]

# ------------------------------------------------------------------------
SERIF = "Liberation Serif, Times New Roman, serif"
SANS = "Liberation Sans, Arial, sans-serif"
DEJAVU = "DejaVu Sans, sans-serif"


def X(p):
    return p / W


def Y(p):
    return 1 - p / H


def with_other(series):
    other = [max(0.0, 100.0 - sum(col)) for col in zip(*series)]
    return list(series) + [other]


fig = go.Figure()


def add_stack(series, colors, xcats, xa, ya, width):
    for vals, col in zip(with_other(series), colors):
        fig.add_trace(go.Bar(
            x=xcats, y=[v / 100.0 for v in vals], xaxis=xa, yaxis=ya,
            width=width, marker=dict(color=col, line=dict(width=0)),
            showlegend=False, hoverinfo="skip"))


add_stack([A_FIRMICUTES, A_BACTEROIDETES, A_PROTEOBACTERIA, A_ACTINOBACTERIA,
           A_VERRUCOMICROBIA, A_FUSOBACTERIA, A_CYANOBACTERIA, A_TENERICUTES,
           A_GEMMATIMONADETES, A_TM7], A_COLORS, SAMPLES, "x", "y", 1.0)
add_stack([B_BACTEROIDES, B_PREVOTELLA, B_RUMINOCOCCACEAE, B_LACHNOSPIRACEAE,
           B_LACHNOSPIRA, B_DIALISTER, B_ENTEROBACTERIACEAE, B_ROSEBURIA,
           B_PARAPREVOTELLA, B_CLOSTRIDIALES, B_SUTTERELLA, B_RUMINOCOCCUS,
           B_PARABACTEROIDES, B_OSCILLOSPIRA, B_RUMINOCOCCUS_L, B_ENTEROCOCCUS,
           B_VEILLONELLA, B_MEGASPHAERA, B_PHASCOLARCTO, B_STREPTOCOCCUS],
          B_COLORS, SAMPLES, "x2", "y2", 1.0)
add_stack([C_FIRMICUTES, C_BACTEROIDETES, C_PROTEOBACTERIA, C_VERRUCOMICROBIA,
           C_ACTINOBACTERIA, C_FUSOBACTERIA, C_CYANOBACTERIA, C_EURYARCHAEOTA,
           C_TENERICUTES, C_SYNERGISTETES], C_COLORS, CATEGORIES, "x3", "y3", 0.75)
add_stack([D_BACTEROIDES, D_PREVOTELLA, D_RUMINOCOCCACEAE, D_LACHNOSPIRACEAE,
           D_DIALISTER, D_LACHNOSPIRA, D_ROSEBURIA, D_PARAPREVOTELLA,
           D_CLOSTRIDIALES, D_ENTEROBACTERIACEAE, D_RUMINOCOCCUS, D_SUTTERELLA,
           D_OSCILLOSPIRA, D_PARABACTEROIDES, D_RUMINOCOCCUS_L, D_VEILLONELLA,
           D_MEGASPHAERA, D_AKKERMANSIA, D_CLOSTRIDIUM, D_PHASCOLARCTO],
          D_COLORS, CATEGORIES, "x4", "y4", 0.75)

TICKS = [0, 0.25, 0.5, 0.75, 1]
TICKTEXT = ["0", "0.25", "0.5", "0.75", "1"]


def yax(top, bottom, anchor):
    return dict(domain=[Y(bottom), Y(top)], anchor=anchor, range=[0, 1],
                tickmode="array", tickvals=TICKS, ticktext=TICKTEXT,
                ticks="outside", ticklen=6, tickwidth=1.5, tickcolor="black",
                showline=True, linewidth=1.5, linecolor="black",
                showgrid=False, zeroline=False,
                tickfont=dict(family=SANS, size=19, color="black"))


def xax_samples(left, right, anchor):
    slot = (right - left - 14) / len(SAMPLES)
    start = -0.5 - 14 / slot
    return dict(domain=[X(left), X(right)], anchor=anchor, type="category",
                range=[start, len(SAMPLES) - 0.5], showline=False, ticks="",
                showgrid=False, zeroline=False, tickmode="array",
                tickvals=SAMPLES, ticktext=SAMPLES, tickangle=-90,
                tickfont=dict(family=SANS, size=5, color="#555555"))


def xax_cats(left, right, anchor, first_center, slot):
    return dict(domain=[X(left), X(right)], anchor=anchor, type="category",
                range=[-(first_center - left) / slot, (right - first_center) / slot],
                showline=False, ticks="", showgrid=False, zeroline=False,
                tickangle=-48, tickfont=dict(family=SERIF, size=13.7, color="black"))


fig.update_layout(
    width=W, height=H,
    margin=dict(l=0, r=0, t=0, b=0, pad=0, autoexpand=False),
    barmode="stack", plot_bgcolor="white", paper_bgcolor="white",
    showlegend=False,
    xaxis=xax_samples(94, 380, "y"), yaxis=yax(65, 428, "x"),
    xaxis2=xax_samples(686, 972, "y2"), yaxis2=yax(63, 427, "x2"),
    xaxis3=xax_cats(93, 380, "y3", 124.3, 40.07), yaxis3=yax(584, 946, "x3"),
    xaxis4=xax_cats(686, 973, "y4", 716.7, 40.1), yaxis4=yax(584, 946, "x4"),
)

shapes = []
annotations = []


def text(x, y, s, size, family=SERIF, angle=0, xanchor="center"):
    annotations.append(dict(x=X(x), y=Y(y), xref="paper", yref="paper", text=s,
                            showarrow=False, xanchor=xanchor, yanchor="middle",
                            textangle=angle,
                            font=dict(family=family, size=size, color="black")))


def legend(labels, colors, box, y_first, step, sw, sw_h, tx, fs):
    x0, y0, x1, y1 = box
    shapes.append(dict(type="rect", xref="paper", yref="paper", x0=X(x0), x1=X(x1),
                       y0=Y(y1), y1=Y(y0), line=dict(color="black", width=1.3),
                       fillcolor="rgba(0,0,0,0)"))
    for i, (lab, col) in enumerate(zip(labels, colors)):
        yc = y_first + i * step
        shapes.append(dict(type="rect", xref="paper", yref="paper",
                           x0=X(sw[0]), x1=X(sw[1]), y0=Y(yc + sw_h / 2),
                           y1=Y(yc - sw_h / 2), line=dict(width=0), fillcolor=col))
        annotations.append(dict(x=X(tx), y=Y(yc), xref="paper", yref="paper", text=lab,
                                showarrow=False, xanchor="left", yanchor="middle",
                                borderpad=0,
                                font=dict(family=DEJAVU, size=fs, color="black")))


legend(A_LABELS, A_COLORS, (391, 138, 589, 286), 146, 13.3, (394, 412), 6, 418, 9)
legend(C_LABELS, C_COLORS, (391, 669, 589, 817), 678, 13.2, (394, 415), 6, 420, 9.2)
legend(B_LABELS, B_COLORS, (985, 129, 1273, 277), 139.5, 6.72, (989, 1000), 3.2, 1003, 4.7)
legend(D_LABELS, D_COLORS, (985, 652, 1273, 816), 658.5, 7.63, (989, 999), 3.6, 1002, 4.4)

text(25, 20, "(a)", 21)
text(630, 18, "(b)", 21)
text(25, 536, "(c)", 21)
text(630, 536, "(d)", 21)
text(318, 22, "The 10 most abundant species at the phylum level", 22)
text(935, 24, "The 20 most abundant species at the genus level", 22)
text(310, 548, "The 10 most abundant species at the phylum level", 22)
text(927, 549, "The 20 most abundant species at the genus level", 22)
text(242, 465, "Number of each sample", 18)
text(850, 461, "Number of each sample", 18)
text(28, 245, "Relative abundance", 18, family=SANS, angle=-90)
text(622, 245, "Relative abundance", 18, family=SANS, angle=-90)
text(28, 765, "Relative abundance", 18, family=SANS, angle=-90)
text(622, 765, "Relative abundance", 18, family=SANS, angle=-90)

fig.update_layout(shapes=shapes, annotations=annotations)

fig.write_html("out.html", config={"displayModeBar": False},
               post_script="document.body.style.margin='0';")
